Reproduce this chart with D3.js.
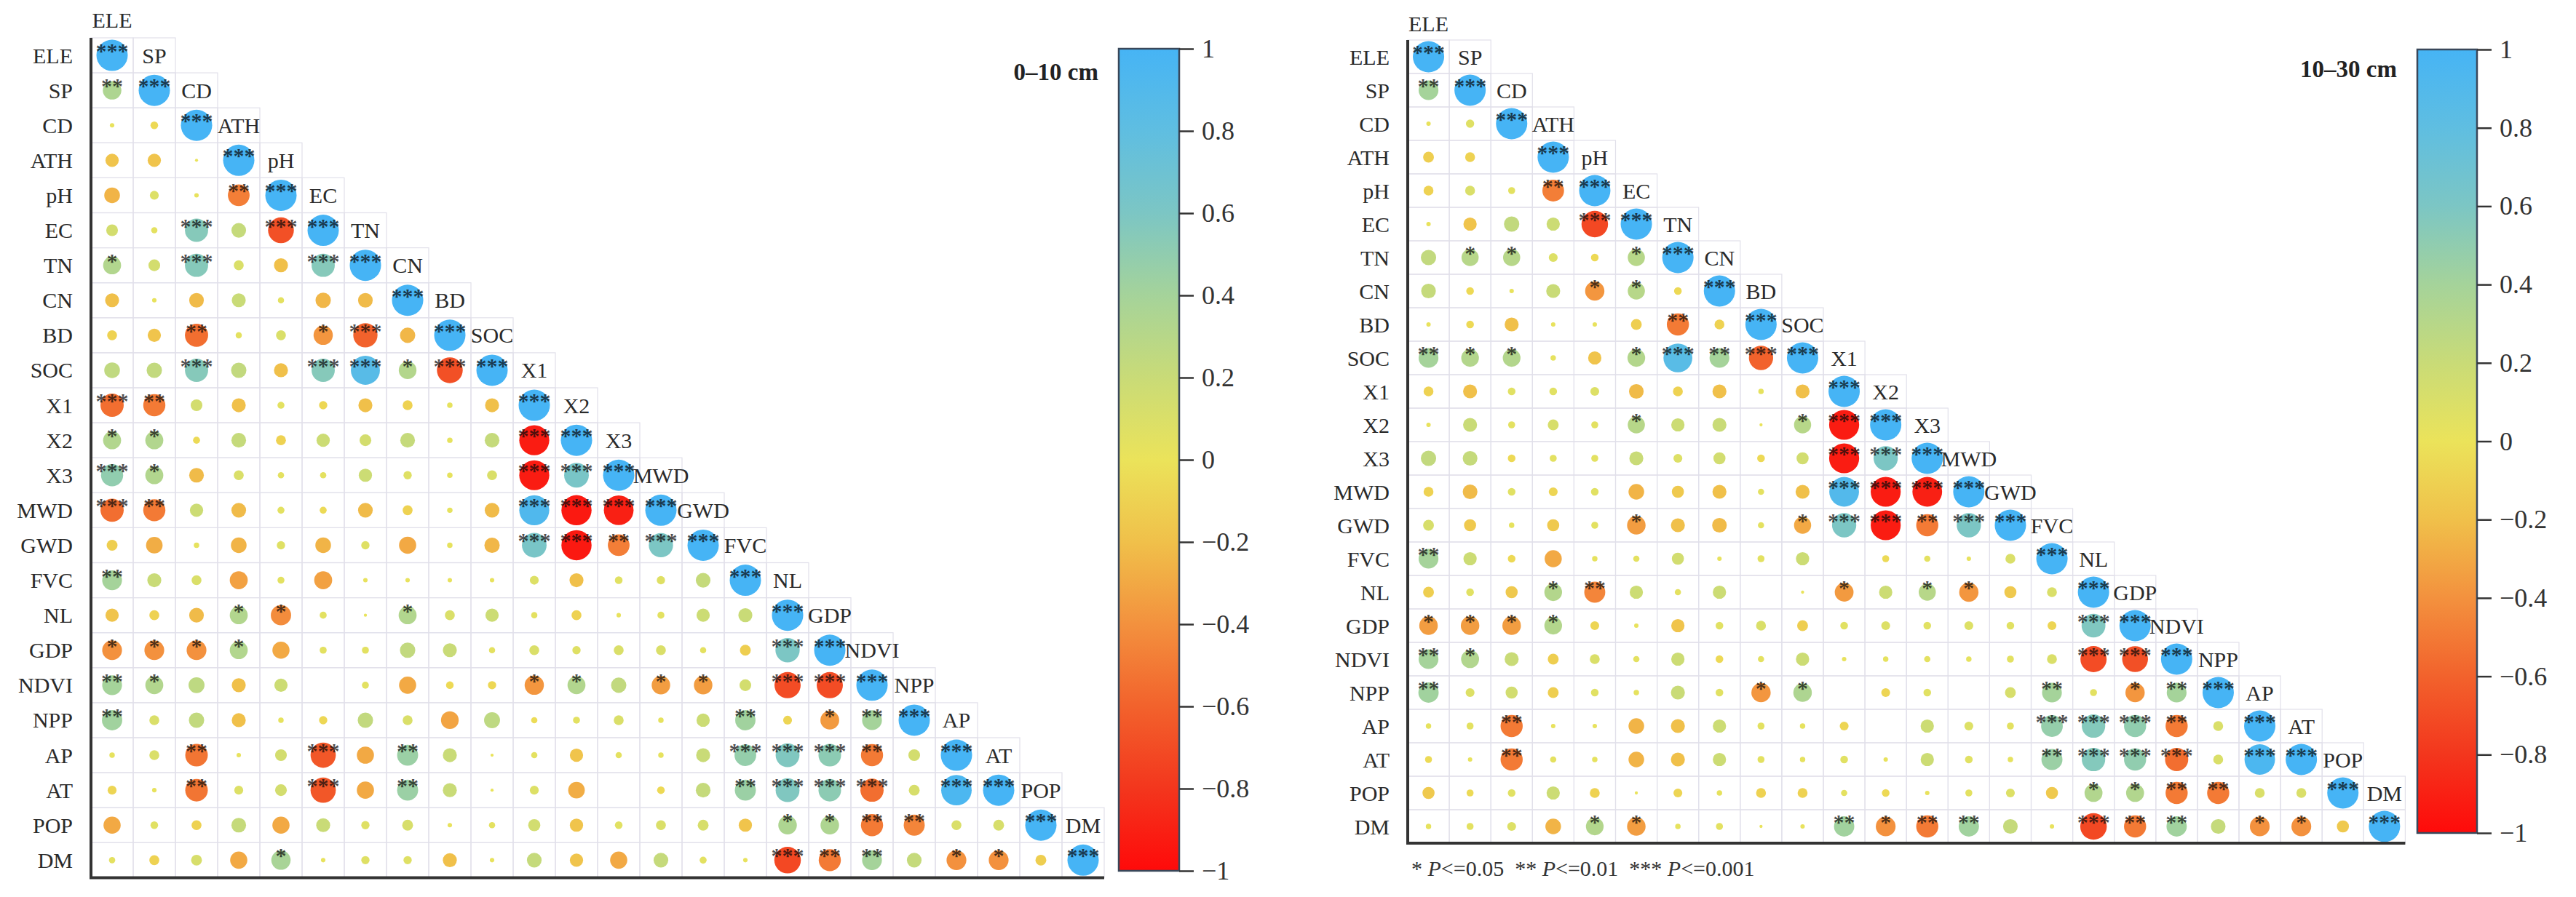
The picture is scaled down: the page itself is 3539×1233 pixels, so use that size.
<!DOCTYPE html>
<html>
<head>
<meta charset="utf-8">
<script src="https://cdn.jsdelivr.net/npm/d3@7"></script>
<style>
  body { margin: 0; background: #fff; }
  text { font-family: "Liberation Serif", "Times New Roman", serif; }
</style>
</head>
<body>
<svg id="chart" width="3539" height="1233"></svg>
<script>
const vars = ["ELE","SP","CD","ATH","pH","EC","TN","CN","BD","SOC","X1","X2","X3","MWD","GWD","FVC","NL","GDP","NDVI","NPP","AP","AT","POP","DM"];

// lower triangle, row i holds the i values left of the diagonal
const corrTop = [
  [],
  [0.35],
  [0.02, -0.06],
  [-0.18, -0.18, 0.01],
  [-0.25, 0.08, 0.02, -0.48],
  [0.14, 0.04, 0.55, 0.22, -0.68],
  [0.33, 0.14, 0.55, 0.1, -0.2, 0.55],
  [-0.2, 0.02, -0.22, 0.2, 0.04, -0.24, -0.22],
  [-0.1, -0.18, -0.55, 0.04, 0.1, -0.38, -0.6, -0.24],
  [0.25, 0.24, 0.55, 0.24, -0.2, 0.55, 0.86, 0.32, -0.68],
  [-0.55, -0.5, 0.14, -0.2, 0.05, -0.07, -0.2, -0.1, 0.03, -0.2],
  [0.33, 0.33, -0.05, 0.22, -0.1, 0.18, 0.14, 0.22, 0.03, 0.22, -0.92],
  [0.5, 0.33, -0.22, 0.1, 0.04, 0.04, 0.18, 0.07, 0.03, 0.1, -0.92, 0.62],
  [-0.55, -0.5, 0.18, -0.22, 0.05, -0.05, -0.22, -0.1, 0.03, -0.22, 0.92, -0.93, -0.9],
  [-0.12, -0.28, 0.03, -0.25, 0.07, -0.25, 0.07, -0.3, 0.03, -0.24, 0.62, -0.93, -0.48, 0.6],
  [0.4, 0.2, 0.1, -0.33, 0.05, -0.33, 0.02, 0.02, 0.02, 0.02, 0.08, -0.2, 0.06, 0.07, 0.22],
  [-0.18, -0.1, -0.22, 0.33, -0.42, 0.05, 0.01, 0.33, 0.1, 0.18, 0.04, -0.1, 0.02, 0.05, 0.18, 0.2],
  [-0.4, -0.4, -0.4, 0.33, -0.3, 0.05, 0.05, 0.24, 0.2, 0.04, 0.1, 0.07, 0.1, 0.1, 0.04, -0.12, 0.6],
  [0.4, 0.33, 0.26, -0.2, 0.18, 0.0, 0.05, -0.3, -0.06, -0.07, -0.38, 0.33, 0.24, -0.35, -0.35, 0.14, -0.7, -0.7],
  [0.42, 0.1, 0.24, -0.2, 0.03, -0.07, 0.24, 0.1, -0.32, 0.26, -0.04, 0.05, 0.1, 0.03, 0.18, 0.42, -0.08, -0.36, 0.4],
  [0.03, 0.1, -0.52, 0.02, 0.14, -0.65, -0.3, 0.45, 0.2, 0.01, 0.04, -0.18, 0.04, 0.03, 0.2, 0.48, 0.58, 0.52, -0.5, 0.14],
  [-0.08, 0.02, -0.52, 0.08, 0.14, -0.65, -0.3, 0.45, 0.2, 0.01, 0.08, -0.28, 0.0, -0.06, 0.22, 0.45, 0.58, 0.52, -0.55, 0.12, 0.95],
  [-0.3, 0.06, -0.1, 0.22, -0.3, 0.2, 0.07, 0.12, 0.02, 0.04, 0.15, -0.18, 0.06, 0.1, 0.12, -0.18, 0.35, 0.35, -0.5, -0.45, 0.1, 0.12],
  [0.04, -0.1, 0.12, -0.3, 0.38, 0.02, 0.07, 0.07, -0.2, 0.02, 0.22, -0.18, -0.3, 0.22, 0.05, 0.02, -0.72, -0.5, 0.4, 0.22, -0.4, -0.4, -0.12]
];
// number of stars per cell, same layout as corrTop
const sigTop = [
  "", "2", "00", "000", "0002", "00303", "103003", "0000000", "00200130", "003003313",
  "3200000000", "11000000003", "310000000033", "3200000000333", "00000000003323",
  "200000000000000", "0001100100000000", "11110000000000003", "210000000011011033",
  "2000000000000002012", "00200302000000033320", "002003020000000233303",
  "0000000000000000112200", "00001000000000003220110"
];

const corrSub = [
  [],
  [0.4],
  [0.02, 0.07],
  [-0.12, -0.1, 0.0],
  [-0.1, 0.1, 0.05, -0.48],
  [0.02, -0.18, 0.24, 0.18, -0.72],
  [0.24, 0.3, 0.3, 0.08, -0.06, 0.3],
  [0.22, -0.06, 0.02, 0.2, -0.38, 0.3, -0.06],
  [0.02, -0.06, -0.2, 0.02, 0.02, -0.12, -0.5, -0.1],
  [0.4, 0.32, 0.32, 0.03, -0.18, 0.32, 0.85, 0.4, -0.6],
  [-0.1, -0.2, 0.06, 0.06, 0.08, -0.22, -0.1, -0.2, 0.03, -0.2],
  [0.02, 0.2, 0.05, 0.12, 0.05, 0.3, 0.18, 0.2, 0.01, 0.3, -0.92],
  [0.24, 0.22, -0.06, 0.05, 0.05, 0.2, 0.08, 0.15, -0.06, 0.15, -0.92, 0.6],
  [-0.1, -0.22, 0.06, -0.08, 0.06, -0.25, -0.15, -0.2, 0.04, -0.2, 0.9, -0.92, -0.9],
  [0.12, -0.15, 0.03, -0.15, 0.05, -0.35, -0.2, -0.22, 0.04, -0.3, 0.6, -0.92, -0.5, 0.6],
  [0.4, 0.18, -0.06, -0.3, 0.03, 0.04, 0.15, 0.02, 0.05, 0.18, 0.0, -0.05, 0.04, 0.02, 0.1],
  [-0.12, 0.06, -0.15, 0.32, -0.45, 0.18, 0.04, 0.18, 0.0, 0.01, -0.36, 0.18, 0.3, -0.38, -0.15, 0.1],
  [-0.35, -0.35, -0.35, 0.32, -0.08, 0.02, -0.18, 0.06, 0.1, -0.12, 0.06, 0.08, 0.06, 0.08, 0.06, -0.08, 0.58],
  [0.4, 0.33, 0.2, -0.12, 0.1, 0.04, 0.18, -0.06, 0.04, 0.18, 0.02, 0.03, 0.04, 0.03, 0.05, 0.1, -0.7, -0.68],
  [0.42, 0.08, 0.15, -0.12, 0.06, 0.03, 0.2, 0.06, -0.38, 0.35, 0.0, -0.08, 0.06, 0.0, 0.12, 0.4, 0.05, -0.38, 0.4],
  [0.03, 0.05, -0.5, 0.02, 0.02, -0.25, -0.2, 0.18, 0.05, 0.03, -0.08, 0.0, 0.18, 0.08, 0.05, 0.48, 0.56, 0.5, -0.5, 0.1],
  [-0.05, 0.02, -0.5, 0.04, 0.03, -0.25, -0.2, 0.18, 0.05, 0.03, 0.06, 0.02, 0.18, 0.06, 0.03, 0.45, 0.56, 0.5, -0.55, 0.1, 0.95],
  [-0.15, -0.05, 0.06, 0.18, -0.1, 0.01, -0.08, 0.03, -0.1, -0.1, 0.04, -0.06, 0.02, 0.05, 0.08, -0.15, 0.33, 0.33, -0.5, -0.5, 0.1, 0.1],
  [0.03, 0.05, 0.08, -0.25, 0.32, -0.35, 0.03, 0.05, 0.01, 0.02, 0.42, -0.4, -0.5, 0.42, 0.22, 0.02, -0.72, -0.5, 0.42, 0.22, -0.4, -0.4, -0.15]
];
const sigSub = [
  "", "2", "00", "000", "0002", "00003", "011001", "0000110", "00000020", "211001323",
  "0000000000", "00000100013", "000000000033", "0000000000333", "00000100013323",
  "200000000000000", "0001200000101100", "11110000000000003", "210000000000000033",
  "2000000011000002012", "00200000000000033320", "002000000000000233303",
  "0000000000000000112200", "00001100002122003220110"
];

const cbTicks = [1, 0.8, 0.6, 0.4, 0.2, 0, -0.2, -0.4, -0.6, -0.8, -1];
const cbColors = ["#46b4f5", "#5fbee1", "#7cc6c4", "#a5d39a", "#c9db77", "#ebe35a", "#f0c04a", "#f3913e", "#f2622c", "#f3361d", "#ff0a0a"];
const legendItems = [["*", "<=0.05"], ["**", "<=0.01"], ["***", "<=0.001"]];

const svg = d3.select("#chart");
const colour = d3.scaleLinear().domain(cbTicks).range(cbColors);
const size = d3.scaleSqrt().domain([0, 1]).range([0, 21.5]);

const drawPanel = (p) => {
  const x = d3.scaleBand().domain(vars).range([p.x0, p.x0 + vars.length * p.cw]);
  const y = d3.scaleBand().domain(vars).range([p.y0, p.y0 + vars.length * p.rh]);
  const g = svg.append("g");

  const cells = [];
  vars.forEach((rv, i) => {
    vars.forEach((cv, j) => {
      if (j > i) return;
      const r = i === j ? 1 : p.values[i][j];
      const s = i === j ? 3 : +p.sig[i][j];
      cells.push({ row: rv, col: cv, r, s });
    });
  });

  // faint grid, one box per lower cell plus the label box next to the diagonal
  const boxes = [];
  vars.forEach((rv, i) => {
    vars.forEach((cv, j) => {
      if (j <= i + 1) boxes.push({ row: rv, col: cv });
    });
  });
  g.append("g")
    .selectAll("rect")
    .data(boxes)
    .enter()
    .append("rect")
      .attr("x", d => x(d.col))
      .attr("y", d => y(d.row))
      .attr("width", x.bandwidth())
      .attr("height", y.bandwidth())
      .attr("fill", "none")
      .attr("stroke", "#e1e0ea")
      .attr("stroke-width", 1.2);

  const marks = g.append("g")
    .selectAll("g")
    .data(cells)
    .enter()
    .append("g")
      .attr("transform", d => `translate(${x(d.col) + x.bandwidth() / 2},${y(d.row) + y.bandwidth() / 2})`);

  marks.append("circle")
    .attr("r", d => size(Math.abs(d.r)))
    .attr("fill", d => colour(d.r));

  marks.filter(d => d.s > 0)
    .append("text")
      .attr("y", 4)
      .attr("text-anchor", "middle")
      .attr("font-size", 30)
      .attr("font-weight", "bold")
      .attr("fill", "#0a0a0a")
      .attr("fill-opacity", 0.72)
      .text(d => "*".repeat(d.s));

  // row names on the left
  g.append("g")
    .selectAll("text")
    .data(vars)
    .enter()
    .append("text")
      .attr("x", p.x0 - 25)
      .attr("y", d => y(d) + y.bandwidth() / 2)
      .attr("text-anchor", "end")
      .attr("dominant-baseline", "central")
      .attr("font-size", 30)
      .attr("fill", "#2a2a2a")
      .text(d => d);

  // column names sit one row above each column's diagonal
  g.append("g")
    .selectAll("text")
    .data(vars)
    .enter()
    .append("text")
      .attr("x", d => x(d) + x.bandwidth() / 2)
      .attr("y", (d, i) => p.y0 + (i - 0.5) * p.rh)
      .attr("text-anchor", "middle")
      .attr("dominant-baseline", "central")
      .attr("font-size", 30)
      .attr("fill", "#2a2a2a")
      .text(d => d);

  const bottom = p.y0 + vars.length * p.rh;
  g.append("path")
    .attr("d", `M${p.x0},${p.y0}V${bottom}H${p.x0 + vars.length * p.cw}`)
    .attr("fill", "none")
    .attr("stroke", "#333")
    .attr("stroke-width", 4);

  // colour bar
  const gradId = "grad" + p.id;
  const grad = svg.append("defs")
    .append("linearGradient")
      .attr("id", gradId)
      .attr("x1", 0).attr("y1", 0).attr("x2", 0).attr("y2", 1);
  cbTicks.forEach((t, i) => {
    grad.append("stop")
      .attr("offset", i / (cbTicks.length - 1))
      .attr("stop-color", cbColors[i]);
  });
  g.append("rect")
    .attr("x", p.cbX)
    .attr("y", p.cbTop)
    .attr("width", p.cbW)
    .attr("height", p.cbBottom - p.cbTop)
    .attr("fill", `url(#${gradId})`)
    .attr("stroke", "#39475a")
    .attr("stroke-width", 2.5);

  const cbScale = d3.scaleLinear().domain([1, -1]).range([p.cbTop, p.cbBottom]);
  const cbAxis = g.append("g")
    .attr("transform", `translate(${p.cbX + p.cbW},0)`)
    .call(d3.axisRight(cbScale).tickValues(cbTicks).tickSize(20).tickPadding(11).tickFormat(d3.format("~g")));
  cbAxis.select(".domain").remove();
  cbAxis.selectAll("line").attr("stroke", "#333").attr("stroke-width", 2.5);
  cbAxis.selectAll("text")
    .attr("font-size", 36)
    .attr("font-family", "'Liberation Serif', 'Times New Roman', serif")
    .attr("fill", "#333");

  g.append("text")
    .attr("x", p.cbX - 28)
    .attr("y", p.titleY)
    .attr("text-anchor", "end")
    .attr("dominant-baseline", "central")
    .attr("font-size", 33)
    .attr("font-weight", "bold")
    .attr("fill", "#222")
    .text(p.title);
};

drawPanel({ id: 1, x0: 125, cw: 58, y0: 52, rh: 48.1, values: corrTop, sig: sigTop,
  cbX: 1537, cbW: 83, cbTop: 67, cbBottom: 1197, title: "0\u201310 cm", titleY: 99 });
drawPanel({ id: 2, x0: 1934, cw: 57.1, y0: 55, rh: 46, values: corrSub, sig: sigSub,
  cbX: 3321, cbW: 82, cbTop: 68, cbBottom: 1145, title: "10\u201330 cm", titleY: 95 });

// significance legend under the right panel
const legend = svg.append("text")
  .attr("x", 1939)
  .attr("y", 1204)
  .attr("font-size", 30)
  .attr("fill", "#333");
legendItems.forEach((d, i) => {
  legend.append("tspan").text((i > 0 ? "\u00a0\u00a0" : "") + d[0] + "\u00a0");
  legend.append("tspan").attr("font-style", "italic").text("P");
  legend.append("tspan").text(d[1]);
});
</script>
</body>
</html>
